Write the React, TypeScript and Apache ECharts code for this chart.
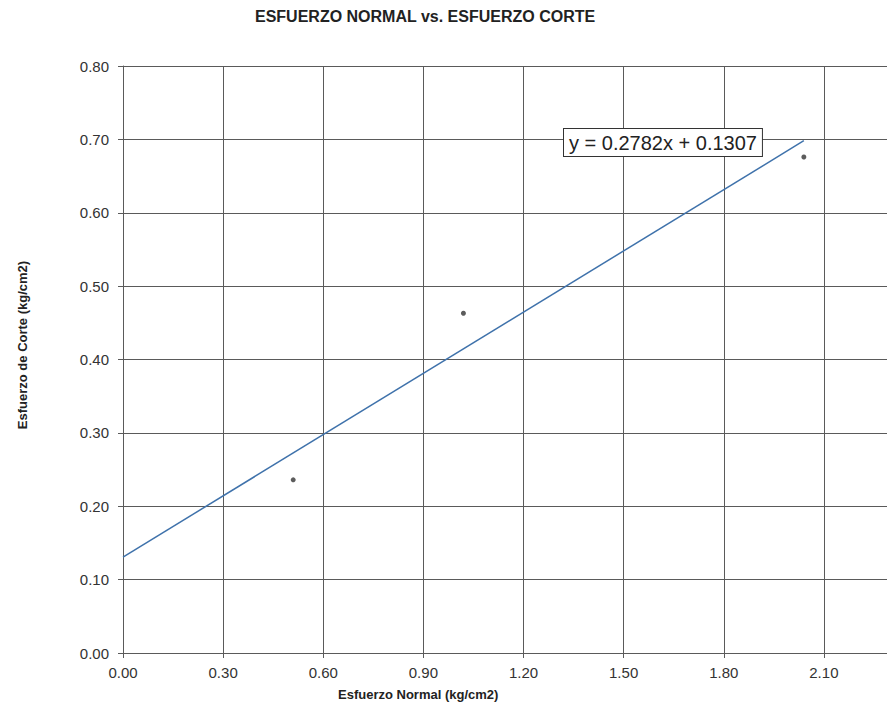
import React, { useEffect, useRef } from "react";
import * as echarts from "echarts";

const normalStress = [0.51, 1.02, 2.04];
const shearStress = [0.236, 0.463, 0.676];
const trendSlope = 0.2782;
const trendIntercept = 0.1307;
const trendRange = [0, 2.04];
const xTicks = { min: 0, max: 2.4, interval: 0.3 };
const yTicks = { min: 0, max: 0.8, interval: 0.1 };
const titleText = "ESFUERZO NORMAL vs. ESFUERZO CORTE";
const xName = "Esfuerzo Normal (kg/cm2)";
const yName = "Esfuerzo de Corte (kg/cm2)";
const equationText = "y = 0.2782x + 0.1307";

const CHART_W = 960;

export default function App() {
  const ref = useRef<HTMLDivElement>(null);
  useEffect(() => {
    if (!ref.current) return;
    const chart = echarts.init(ref.current, null, { renderer: "svg" });
    const font = "'Liberation Sans', Arial, sans-serif";
    const trendData = trendRange.map((x) => [x, trendSlope * x + trendIntercept]);
    const gridColor = "#5a5a5a";
    chart.setOption({
      animation: false,
      backgroundColor: "#fff",
      grid: { left: 123, top: 66, right: CHART_W - 924, bottom: 58, show: false },
      xAxis: {
        type: "value",
        min: xTicks.min,
        max: xTicks.max,
        interval: xTicks.interval,
        axisLine: { show: true, lineStyle: { color: gridColor, width: 1 } },
        axisTick: { show: true, length: 5, lineStyle: { color: gridColor } },
        axisLabel: {
          margin: 12,
          color: "#333",
          fontFamily: font,
          fontSize: 15,
          showMaxLabel: false,
          formatter: (v: number) => v.toFixed(2),
        },
        splitLine: { show: true, lineStyle: { color: gridColor, width: 1 } },
      },
      yAxis: {
        type: "value",
        min: yTicks.min,
        max: yTicks.max,
        interval: yTicks.interval,
        axisLine: { show: true, lineStyle: { color: gridColor, width: 1 } },
        axisTick: { show: true, length: 5, lineStyle: { color: gridColor } },
        axisLabel: {
          margin: 14,
          color: "#333",
          fontFamily: font,
          fontSize: 15,
          formatter: (v: number) => v.toFixed(2),
        },
        splitLine: { show: true, lineStyle: { color: gridColor, width: 1 } },
      },
      graphic: [
        {
          type: "text",
          left: 255,
          top: 8,
          style: {
            text: titleText,
            font: `bold 16px ${font}`,
            fill: "#222",
          },
        },
        {
          type: "text",
          left: 338,
          top: 688,
          style: {
            text: xName,
            font: `bold 13px ${font}`,
            fill: "#222",
          },
        },
        {
          type: "text",
          x: 22,
          y: 345,
          rotation: Math.PI / 2,
          style: {
            text: yName,
            font: `bold 13px ${font}`,
            fill: "#222",
            align: "center",
            verticalAlign: "middle",
          },
        },
        {
          type: "text",
          left: 563,
          top: 128,
          z: 10,
          style: {
            text: equationText,
            font: `20px ${font}`,
            fill: "#222",
            backgroundColor: "#fff",
            borderColor: "#333",
            borderWidth: 1,
            padding: [4, 5, 3, 5],
          },
        },
      ],
      series: [
        {
          type: "line",
          data: trendData,
          showSymbol: false,
          symbol: "none",
          lineStyle: { color: "#3f72ab", width: 1.5 },
          z: 3,
        },
        {
          type: "scatter",
          data: normalStress.map((x, i) => [x, shearStress[i]]),
          symbol: "circle",
          symbolSize: 5,
          itemStyle: { color: "#333" },
          z: 4,
        },
      ],
    });
    return () => chart.dispose();
  }, []);
  return (
    <div
      style={{
        position: "fixed",
        left: 0,
        top: 0,
        width: 887,
        height: 711,
        overflow: "hidden",
        background: "#fff",
      }}
    >
      <div ref={ref} style={{ width: CHART_W, height: 711 }} />
    </div>
  );
}
